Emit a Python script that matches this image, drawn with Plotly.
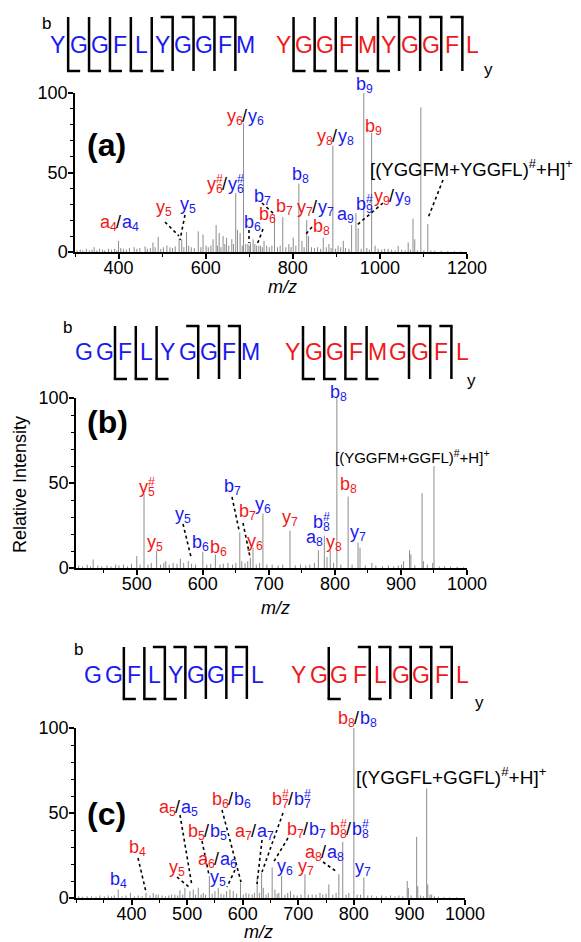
import plotly.graph_objects as go

FONT = "Arial, Liberation Sans, sans-serif"
W, H = 581, 942
BLUE = "rgb(25,25,240)"
RED = "rgb(240,25,25)"
PEAK = "rgb(140,140,140)"

# ---------------- data ----------------
# panel (a) [(YGGFM+YGGFL)#+H]+
a_mz  = [344, 400, 479, 491, 511, 539, 545, 556, 583, 594, 617, 624, 631, 640, 648, 660, 669, 673, 679, 687,
         697, 703, 709, 717, 726, 734, 758, 777, 791, 801, 814, 821, 832, 836, 870, 883, 892, 904, 916, 935,
         945, 950, 963, 981, 989, 1019, 1042, 1065, 1076, 1080, 1094, 1110]
a_int = [3, 7, 6, 9.5, 4, 8, 8, 12.5, 13, 11, 8, 17, 12, 10, 9, 8, 37, 14, 12, 81,
         5, 6, 8, 4, 4, 7, 23, 22, 5, 9, 43, 7, 20, 10, 9, 5, 67, 4, 7, 17,
         24.5, 15, 100, 75, 4, 2, 4, 6, 21, 8, 91, 17.5]
a_noise = [(305,1),(312,1.5),(318,1),(326,2),(333,1),(339,1.5),(350,1),(356,2),(363,1.5),(368,1),(377,2),
           (384,1.5),(391,2),(396,1),(405,2.5),(411,2),(418,1.5),(425,2.5),(436,3),(442,2),(449,2.5),(461,3.5),
           (466,2),(473,2.5),(484,3),(497,2),(503,3),(518,3),(524,2.5),(530,3.5),(550,3),(561,4),(567,3),
           (574,2.5),(589,3),(601,4),(606,3),(612,4),(627,4),(635,3),(644,5),(653,4),(664,5),(684,4),(692,5),
           (700,4),(713,5),(722,4),(730,3),(740,4),(746,3),(752,4),(765,3),(771,4),(784,3),(796,3),(807,4),
           (826,3),(843,3),(850,2.5),(857,3),(864,2),(877,3),(888,2.5),(898,2),(910,3),(921,2.5),(929,2),
           (957,2),(970,2.5),(976,1.5),(996,2),(1004,1.5),(1011,2),(1027,1.5),(1035,1),(1050,1.5),(1058,1),
           (1070,1.5),(1086,1),(1101,1),(1117,1),(1126,0.8),(1141,0.8),(1156,0.6),(1171,0.6),(1186,0.5)]

# panel (b) [(YGGFM+GGFL)#+H]+
b_mz  = [434, 500, 511, 530, 541, 544, 555, 566, 578, 600, 619, 638, 656, 659, 672, 676, 691, 732,
         775, 784, 788, 793, 803, 820, 835, 838, 856, 904, 913, 915, 932, 934, 948, 950]
b_int = [5, 7, 44, 10, 3, 4, 3, 5.5, 4, 9.6, 8, 3, 21, 4, 6, 12, 32, 22,
         10.5, 19, 6.5, 10, 100, 42, 15, 12, 3, 4, 10.5, 8, 44, 4, 3, 60]
b_noise = [(412,1.5),(418,1),(425,2),(430,1),(441,1.5),(447,1),(455,1.5),(461,1),(468,2),(473,1.5),(480,2),
           (486,1),(492,2.5),(505,2),(517,2),(522,3),(536,2),(549,2),(561,2.5),(571,3),(583,2.5),(589,2),
           (606,2),(612,2.5),(626,2),(631,2.5),(645,2),(650,3),(664,3),(668,4),(681,2),(686,3),(697,2),
           (705,2),(714,1.5),(721,2),(740,1.5),(748,2),(756,1.5),(762,2),(769,3),(798,3),(809,2),(826,2),
           (846,1.5),(862,1.5),(872,1),(881,1.5),(889,1),(896,1.5),(901,2),(921,1.5),(940,2),(958,1),
           (966,1),(975,0.8),(985,0.8),(995,0.5)]

# panel (c) [(YGGFL+GGFL)#+H]+
c_mz  = [376, 398, 426, 439, 448, 472, 487, 496, 505, 511, 520, 529, 540, 550, 556, 571, 577, 583, 596,
         606, 626, 634, 637, 653, 658, 670, 686, 712, 739, 755, 773, 780, 800, 818, 896, 898, 913, 915,
         931, 933, 940]
c_int = [5, 3, 3, 3, 2, 2, 4.5, 6, 4, 5, 6, 3, 13, 4, 6, 4, 5, 4, 9,
         3, 12, 15, 6, 18, 5, 13, 4, 14, 3, 8, 14, 33, 100, 12, 10, 6, 36, 7,
         64.5, 8, 2]
c_noise = [(305,1),(312,0.8),(320,1),(328,1),(336,0.8),(343,1.5),(351,1),(358,1.5),(364,1),(369,1.5),
           (383,1),(390,1.5),(405,1),(412,1.5),(419,1),(433,1.5),(444,2),(455,1.5),(461,1),(467,1.5),
           (478,2),(483,1.5),(492,2),(515,2),(525,2),(533,2),(545,2.5),(561,2.5),(566,2),(589,2.5),
           (601,2),(611,2.5),(617,2),(621,3),(630,3),(642,2),(646,3),(662,2.5),(665,3),(676,2),(681,3),
           (692,2),(698,1.5),(705,2),(718,2),(725,2),(732,2),(744,2),(750,2.5),(762,2),(768,3),(786,2),
           (791,3),(806,2),(812,2),(825,1.5),(832,1.5),(841,1),(850,1.5),(858,1),(866,1.5),(874,1),
           (881,1.5),(888,1),(903,1.5),(920,1.5),(925,1),(937,2),(945,1),(952,0.8),(962,0.6),(972,0.5),
           (985,0.5)]

# sequences and cleavage marks per gap: b = b-ion bracket, y = y-ion bracket, B = both, - = none
seq_a = ("YGGFLYGGFM", "YGGFMYGGFL"); cuts_a = ("bbbbbyyyy", "bbbbbyyyy")
seq_b = ("GGFLYGGFM", "YGGFMGGFL");  cuts_b = ("-bbb-yyy", "bbbb-yyy")
seq_c = ("GGFLYGGFL", "YGGFLGGFL");  cuts_c = ("-bbByyyy", "-b-Byyyy")

prec_a = "[(YGGFM+YGGFL)<sup>#</sup>+H]<sup>+</sup>"
prec_b = "[(YGGFM+GGFL)<sup>#</sup>+H]<sup>+</sup>"
prec_c = "[(YGGFL+GGFL)<sup>#</sup>+H]<sup>+</sup>"

xticks_a = [400, 600, 800, 1000, 1200]
xticks_b = [500, 600, 700, 800, 900, 1000]
xticks_c = [400, 500, 600, 700, 800, 900, 1000]
yticks = [0, 50, 100]

# ion labels: tokens "color:ion" (r = red peptide, b = blue peptide, k = black)
ions_a = [
    (["r:a4", "k:/", "b:a4"], (119, 223)), (["r:y5"], (164, 208)), (["b:y5"], (188, 205)),
    (["r:y6#", "k:/", "b:y6#"], (225, 185)), (["r:y6", "k:/", "b:y6"], (245, 117)),
    (["b:b6"], (252, 223)), (["r:b6"], (267, 215)), (["b:b7"], (262, 197)), (["r:b7"], (284, 207)),
    (["b:b8"], (300, 175)), (["r:y7", "k:/", "b:y7"], (315, 208)), (["r:b8"], (321, 227)),
    (["r:y8", "k:/", "b:y8"], (335, 137)), (["b:a9"], (345, 215)), (["b:b9#"], (364, 205)),
    (["r:y9", "k:/", "b:y9"], (392, 197)), (["b:b9"], (364, 85)), (["r:b9"], (373, 127)),
]
ions_b = [
    (["r:y5#"], (147, 488)), (["r:y5"], (155, 543)), (["b:y5"], (183, 515)), (["b:b6"], (200, 543)),
    (["r:b6"], (218, 548)), (["b:b7"], (232, 487)), (["r:b7"], (247, 512)), (["r:y6"], (255, 542)),
    (["b:y6"], (263, 505)), (["r:y7"], (290, 518)), (["b:a8"], (314, 538)), (["b:b8#"], (321, 523)),
    (["r:y8"], (334, 543)), (["r:b8"], (348, 485)), (["b:y7"], (358, 533)), (["b:b8"], (338, 393)),
]
ions_c = [
    (["b:b4"], (118, 880)), (["r:b4"], (137, 848)), (["r:y5"], (177, 868)),
    (["r:a5", "k:/", "b:a5"], (178, 808)), (["r:b5", "k:/", "b:b5"], (207, 832)),
    (["r:a6", "k:/", "b:a6"], (217, 860)), (["b:y5"], (218, 878)), (["r:b6", "k:/", "b:b6"], (231, 800)),
    (["r:a7", "k:/", "b:a7"], (254, 832)), (["r:b7#", "k:/", "b:b7#"], (291, 800)),
    (["r:b7", "k:/", "b:b7"], (306, 830)), (["b:y6"], (285, 867)), (["r:y7"], (306, 867)),
    (["r:a8", "k:/", "b:a8"], (324, 853)), (["r:b8#", "k:/", "b:b8#"], (349, 830)),
    (["r:b8", "k:/", "b:b8"], (357, 719)), (["b:y7"], (363, 868)),
]
leaders_a = [((165, 222), (179, 236)), ((185, 215), (180, 240)), ((249, 230), (249, 243)),
             ((263, 229), (257, 245)), ((262, 203), (275, 215)), ((312, 227), (306, 234)),
             ((383, 203), (357, 225)), ((443, 180), (428, 218))]
leaders_b = [((183, 524), (191, 557)), ((232, 497), (239, 530)), ((243, 523), (250, 557))]
leaders_c = [((138, 858), (146, 892)), ((177, 877), (189, 887)), ((180, 815), (192, 886)),
             ((202, 841), (209, 875)), ((235, 870), (227, 887)), ((222, 810), (241, 882)),
             ((262, 840), (257, 884)), ((283, 813), (262, 872)), ((288, 838), (273, 863)),
             ((323, 862), (337, 872))]

# ---------------- layout helpers ----------------
PANELS = [
    dict(mz=a_mz, it=a_int, noise=a_noise, xr=[300, 1200], px=(75, 467), py=(252, 93), xt=xticks_a, xminor=100,
         seq=seq_a, cuts=cuts_a, prec=prec_a, prec_xy=(471, 168), prec_size=18.5, ions=ions_a, leaders=leaders_a,
         tag="(a)", tag_xy=(106, 145), mz_xy=(282, 287),
         sl=dict(bx=57.7, bdx=20.9, rx=283, rdx=21.1, yc=45, top=17, bot=71, b=(46, 24), y=(488, 70))),
    dict(mz=b_mz, it=b_int, noise=b_noise, xr=[408, 1000], px=(76, 467), py=(568, 398), xt=xticks_b, xminor=50,
         seq=seq_b, cuts=cuts_b, prec=prec_b, prec_xy=(412, 456), prec_size=15, ions=ions_b, leaders=leaders_b,
         tag="(b)", tag_xy=(107, 422), mz_xy=(275, 608),
         sl=dict(bx=83.8, bdx=20.8, rx=292.4, rdx=21.2, yc=352, top=326, bot=379, b=(67, 328), y=(471, 380))),
    dict(mz=c_mz, it=c_int, noise=c_noise, xr=[300, 1000], px=(76, 465), py=(898, 728), xt=xticks_c, xminor=50,
         seq=seq_c, cuts=cuts_c, prec=prec_c, prec_xy=(451, 776), prec_size=19, ions=ions_c, leaders=leaders_c,
         tag="(c)", tag_xy=(106, 814), mz_xy=(258, 932),
         sl=dict(bx=93.1, bdx=20.5, rx=298, rdx=20.5, yc=675, top=647, bot=699, b=(78, 649), y=(479, 702))),
]

annotations = []
shapes = []


def ann(x, y, text, size, color="black", xanchor="center", yanchor="middle", **kw):
    annotations.append(dict(x=x / W, y=1 - y / H, xref="paper", yref="paper", text=text, showarrow=False,
                            font=dict(size=size, color=color, family=FONT), xanchor=xanchor, yanchor=yanchor,
                            borderpad=0, borderwidth=0, **kw))


def seg(x0, y0, x1, y1, width=2.5, dash="solid"):
    shapes.append(dict(type="line", xref="paper", yref="paper", x0=x0 / W, y0=1 - y0 / H, x1=x1 / W,
                       y1=1 - y1 / H, line=dict(color="black", width=width, dash=dash)))


CW = {"a": 0.556, "b": 0.556, "y": 0.5, "/": 0.278}
COLORS = {"r": RED, "b": BLUE, "k": "black"}


def ion_label(tokens, cx, cy, F=18):
    f = F * 0.68
    parts = []
    for tok in tokens:
        col, body = tok.split(":")
        ch = body[0]
        sup = "#" if "#" in body else ""
        sub = "".join(c for c in body[1:] if c.isdigit())
        w = CW[ch] * F
        ws = max(0.556 * f * len(sub), 0.556 * f * len(sup))
        parts.append((ch, COLORS[col], sub, sup, w, ws))
    total = sum(p[4] + p[5] for p in parts)
    x = cx - total / 2
    for ch, col, sub, sup, w, ws in parts:
        ann(x, cy - 1, ch, F, col, xanchor="left")
        if sub:
            ann(x + w, cy + 4, sub, f, col, xanchor="left")
        if sup:
            ann(x + w, cy - 6, sup, f, col, xanchor="left")
        x += w + ws


fig = go.Figure()
for i, p in enumerate(PANELS):
    n = "" if i == 0 else str(i + 1)
    xs, ys = [], []
    for m, v in zip(p["mz"], p["it"]):
        xs += [m, m, None]
        ys += [0, v, None]
    for m, v in p["noise"]:
        xs += [m, m, None]
        ys += [0, v, None]
    fig.add_trace(go.Scatter(x=xs, y=ys, mode="lines", line=dict(color=PEAK, width=1), xaxis="x" + n,
                             yaxis="y" + n, hoverinfo="skip", showlegend=False))
    tickfont = dict(size=18, family=FONT, color="black")
    fig.layout["xaxis" + n] = dict(domain=[p["px"][0] / W, p["px"][1] / W], range=p["xr"], anchor="y" + n,
                                   showline=True, linecolor="black", linewidth=1.5, ticks="outside", ticklen=5,
                                   tickwidth=1.5, tickcolor="black", tickmode="array", tickvals=p["xt"],
                                   tickfont=tickfont, showgrid=False, zeroline=False, ticklabelstandoff=-6,
                                   minor=dict(tickmode="linear", tick0=0, dtick=p["xminor"], ticks="outside",
                                              ticklen=3, tickwidth=1, tickcolor="black", showgrid=False))
    fig.layout["yaxis" + n] = dict(domain=[1 - p["py"][0] / H, 1 - p["py"][1] / H], range=[0, 100],
                                   anchor="x" + n, showline=True, linecolor="black", linewidth=1.5,
                                   ticks="outside", ticklen=5, tickwidth=1.5, tickcolor="black",
                                   tickmode="array", tickvals=yticks, tickfont=tickfont, showgrid=False,
                                   zeroline=False, ticklabelstandoff=-3,
                                   minor=dict(tickmode="linear", tick0=0, dtick=10, ticks="outside", ticklen=3,
                                              tickwidth=1, tickcolor="black", showgrid=False))

    # sequence diagram
    sl = p["sl"]
    for (s, cuts, x0, dx, col) in [(p["seq"][0], p["cuts"][0], sl["bx"], sl["bdx"], BLUE),
                                   (p["seq"][1], p["cuts"][1], sl["rx"], sl["rdx"], RED)]:
        for k, ch in enumerate(s):
            ann(x0 + k * dx, sl["yc"], ch, 23, col)
        for k, c in enumerate(cuts):
            gx = x0 + (k + 0.5) * dx
            if c == "-":
                continue
            seg(gx, sl["top"], gx, sl["bot"])
            if c in "bB":
                seg(gx - 1.2, sl["bot"], gx + 12, sl["bot"])
            if c in "yB":
                seg(gx - 12, sl["top"], gx + 1.2, sl["top"])
    ann(sl["b"][0], sl["b"][1], "b", 17)
    ann(sl["y"][0], sl["y"][1], "y", 17)

    # labels
    for tokens, (lx, ly) in p["ions"]:
        ion_label(tokens, lx, ly)
    for (x0, y0), (x1, y1) in p["leaders"]:
        seg(x0, y0, x1, y1, width=1.6, dash="dot")
    ann(p["prec_xy"][0], p["prec_xy"][1], p["prec"], p["prec_size"])
    ann(p["tag_xy"][0], p["tag_xy"][1], "<b>" + p["tag"] + "</b>", 32)
    ann(p["mz_xy"][0], p["mz_xy"][1], "<i>m/z</i>", 18)

ann(20, 485, "Relative Intensity", 18, textangle=-90)

fig.update_layout(width=W, height=H, margin=dict(l=0, r=0, t=0, b=0, pad=0, autoexpand=False),
                  paper_bgcolor="white", plot_bgcolor="white", annotations=annotations, shapes=shapes,
                  showlegend=False)
fig.write_html("out.html", config={"displayModeBar": False},
               post_script="document.body.style.margin='0px';")
